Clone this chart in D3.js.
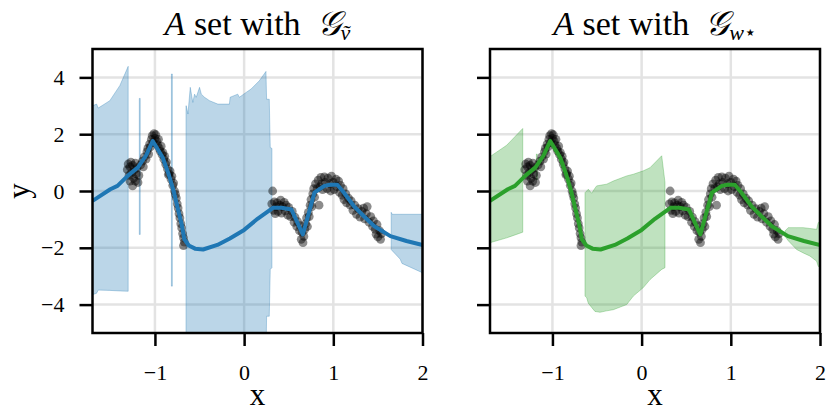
<!DOCTYPE html>
<html>
<head>
<meta charset="utf-8">
<script src="https://d3js.org/d3.v7.min.js"></script>
<style>
  body { margin: 0; background: #fff; }
  svg text { font-family: "Liberation Serif", "DejaVu Serif", serif; fill: #000; }
  .domain { display: none; }
</style>
</head>
<body>
<svg width="826" height="412"></svg>
<script>
// ticks
const xTicks = [-1, 0, 1, 2];
const yTicks = [-4, -2, 0, 2, 4];

// predictive mean (same in both panels)
const meanX = [-1.7, -1.5, -1.42, -1.3, -1.19, -1.1, -1.025, -0.913, -0.846, -0.79, -0.746, -0.70, -0.67, -0.62, -0.55, -0.46, -0.3, -0.16, 0, 0.15, 0.323, 0.42, 0.53, 0.658, 0.788, 0.9, 0.96, 1.045, 1.12, 1.23, 1.34, 1.46, 1.64, 1.82, 2.0];
const meanY = [-0.35, 0.06, 0.18, 0.55, 0.83, 1.25, 1.76, 1.18, 0.59, 0, -0.59, -1.18, -1.70, -1.92, -2.03, -2.06, -1.9, -1.67, -1.37, -0.98, -0.59, -0.59, -0.65, -1.53, -0.06, 0.18, 0.22, 0.22, -0.06, -0.53, -0.88, -1.24, -1.59, -1.76, -1.9];

// observations
const obsX = [-1.31, -1.30, -1.29, -1.28, -1.28, -1.27, -1.26, -1.25, -1.25, -1.24, -1.23, -1.22, -1.22, -1.21, -1.20, -1.19, -1.18,
  -1.16, -1.14, -1.13, -1.12, -1.10, -1.09, -1.08, -1.07, -1.06, -1.05, -1.04, -1.03, -1.02, -1.01, -1.00, -0.99, -0.98, -0.97, -0.96,
  -0.95, -0.94, -0.93, -0.92, -0.91, -0.90, -0.89, -0.88, -0.87, -0.86, -0.85, -0.84, -0.83, -0.82, -0.81, -0.80, -0.79, -0.78,
  -0.77, -0.76, -0.75, -0.74, -0.73, -0.72, -0.71, -0.70, -0.69, -0.68, -0.67, -0.68,
  0.32, 0.31, 0.33, 0.34, 0.35, 0.36, 0.37, 0.38, 0.40, 0.41, 0.42, 0.43, 0.45, 0.46, 0.47, 0.49, 0.50, 0.52, 0.54, 0.56, 0.57,
  0.59, 0.60, 0.62, 0.63, 0.64, 0.65, 0.66, 0.67, 0.68, 0.69, 0.70, 0.71, 0.72, 0.73, 0.74, 0.75, 0.76, 0.77, 0.78, 0.79, 0.80,
  0.82, 0.83, 0.84, 0.85, 0.86, 0.87, 0.88, 0.90, 0.91, 0.93, 0.94, 0.96, 0.97, 0.98, 1.00, 1.01, 1.03, 1.04, 1.06, 1.07, 1.08,
  1.10, 1.11, 1.12, 1.14, 1.15, 1.17, 1.19, 1.20, 1.22, 1.24, 1.26, 1.28, 1.30, 1.32, 1.34, 1.35, 1.37, 1.38, 1.40, 1.42, 1.44,
  1.45, 1.47, 1.48, 1.49, 1.50, 1.52, 1.53, 1.54];
const obsY = [0.75, 0.95, 0.55, 0.85, 0.35, 1.02, 0.65, 0.18, 0.9, 0.45, 0.75, 0.98, 0.35, 0.6, 0.82, 0.3, 0.55,
  0.92, 1.05, 0.85, 1.2, 1.12, 1.38, 1.5, 1.3, 1.65, 1.55, 1.82, 1.95, 1.7, 2.02, 1.85, 1.98, 1.75, 1.62, 1.82,
  1.5, 1.4, 1.58, 1.28, 1.35, 1.12, 1.22, 0.95, 1.02, 0.78, 0.58, 0.6, 0.7, 0.42, 0.52, 0.2, 0.28, 0.0,
  -0.12, -0.25, -0.45, -0.6, -0.8, -0.95, -1.15, -1.3, -1.5, -1.65, -1.8, -1.92,
  0.0, -0.45, -0.68, -0.38, -0.8, -0.55, -0.42, -0.72, -0.5, -0.32, -0.78, -0.55, -0.4, -0.7, -0.5, -0.85, -0.58, -0.9, -0.72, -1.1, -0.92,
  -1.25, -1.08, -1.4, -1.22, -1.7, -1.45, -1.82, -1.6, -1.35, -1.15, -0.95, -1.25, -0.75, -0.9, -0.5, -0.3, -0.55, -0.1, 0.08, -0.22, 0.25,
  0.1, 0.38, -0.5, 0.15, 0.48, 0.25, 0.05, 0.5, 0.3, 0.08, 0.45, 0.25, 0.0, 0.52, 0.3, 0.05, 0.42, 0.15, 0.35, -0.05, 0.2,
  -0.15, 0.08, -0.3, -0.1, -0.42, -0.25, -0.5, -0.35, -0.68, -0.5, -0.82, -0.62, -0.92, -0.72, -0.6, -0.98, -0.8, -0.55, -1.1, -0.9, -1.25,
  -1.05, -1.35, -1.52, -1.18, -1.62, -1.4, -1.7, -1.5];

// uncertainty band, left panel (null = no band)
const blueX  = [-1.7, -1.654, -1.636, -1.506, -1.394, -1.30, -1.29, -1.175, -1.165, -1.16, -0.815, -0.805, -0.80,
  -0.652, -0.649, -0.63, -0.604, -0.575, -0.556, -0.537, -0.50, -0.48, -0.444, -0.388, -0.295, -0.165, -0.157, -0.072, -0.053,
  0.022, 0.078, 0.17, 0.245, 0.252, 0.282, 0.293, 0.312, 0.32, 1.649, 1.66, 1.75, 1.77, 1.98, 2.0];
const blueHi = [3.0, 3.06, 2.92, 3.18, 3.71, 4.39, null, 3.26, 3.26, null, 4.12, 4.12, null,
  3.0, 3.0, 2.71, 3.65, 3.12, 3.41, 3.3, 3.65, 3.41, 3.3, 3.18, 3.06, 3.06, 3.3, 3.41, 3.3,
  3.47, 3.59, 3.88, 4.21, 3.23, 3.23, 1.53, 1.5, null, -0.75, -0.82, -0.82, -0.82, -0.82, -0.82];
const blueLo = [-3.65, -3.6, -3.49, -3.5, -3.52, -3.53, null, -1.53, -1.53, null, -3.35, -3.35, null,
  -6, -6, -6, -6, -6, -6, -6, -6, -6, -6, -6, -6, -6, -6, -6, -6,
  -6, -6, -6, -6, -4.41, -4.41, -2.76, -2.7, null, -2.06, -2.1, -2.4, -2.55, -2.85, -2.9];

// uncertainty band, right panel
const greenX  = [-1.7, -1.513, -1.333, -1.32, -1.18, -1.17, -1.16, -0.635, -0.616, -0.598, -0.56, -0.523, -0.504, -0.467,
  -0.392, -0.318, -0.168, -0.093, 0.019, 0.094, 0.225, 0.262, 0.27, 1.607, 1.644, 1.738, 1.812, 1.887, 1.962, 1.98, 2.0];
const greenHi = [1.21, 1.61, 2.2, null, 1.3, 1.3, null, -0.06, 0.0, 0.06, -0.08, 0.1, 0.18, 0.2,
  0.24, 0.35, 0.53, 0.59, 0.71, 0.82, 1.24, 0.3, null, -1.41, -1.29, -1.29, -1.29, -1.32, -1.35, -1.12, -1.05];
const greenLo = [-1.82, -1.65, -1.45, null, 0.4, 0.4, null, -3.7, -3.76, -3.95, -4.1, -4.24, -4.25, -4.27,
  -4.22, -4.18, -4.0, -3.7, -3.4, -3.12, -2.76, -2.7, null, -1.59, -1.75, -2.06, -2.18, -2.29, -2.47, -2.65, -2.7];

const svg = d3.select('svg');
const plotTop = 49, plotBottom = 333;

const panels = [
  { left: 92.5, right: 422.5, color: '#1f77b4', bx: blueX, hi: blueHi, lo: blueLo, sub: 'ṽ', star: false, ylabels: true },
  { left: 490, right: 820, color: '#2ca02c', bx: greenX, hi: greenHi, lo: greenLo, sub: 'w', star: true, ylabels: false }
];

panels.forEach((p, k) => {
  const x = d3.scaleLinear().domain([-1.7, 2]).range([p.left, p.right]);
  const y = d3.scaleLinear().domain([-5, 5]).range([plotBottom, plotTop]);

  svg.append('clipPath').attr('id', 'clip' + k)
    .append('rect')
      .attr('x', p.left).attr('y', plotTop)
      .attr('width', p.right - p.left).attr('height', plotBottom - plotTop);

  // grid
  const grid = svg.append('g').attr('stroke', '#e3e3e3').attr('stroke-width', 2.5);
  grid.selectAll('.gx').data(xTicks).join('line')
    .attr('x1', d => x(d)).attr('x2', d => x(d))
    .attr('y1', plotTop).attr('y2', plotBottom);
  grid.selectAll('.gy').data(yTicks).join('line')
    .attr('x1', p.left).attr('x2', p.right)
    .attr('y1', d => y(d)).attr('y2', d => y(d));

  const plot = svg.append('g').attr('clip-path', `url(#clip${k})`);

  // band
  const idx = d3.range(p.bx.length);
  const area = d3.area()
    .defined(i => p.hi[i] != null)
    .x(i => x(p.bx[i]))
    .y0(i => y(p.lo[i]))
    .y1(i => y(p.hi[i]));
  plot.append('path')
    .attr('d', area(idx))
    .attr('fill', p.color).attr('fill-opacity', 0.3)
    .attr('stroke', p.color).attr('stroke-opacity', 0.3).attr('stroke-width', 1);

  // observations
  plot.append('g').selectAll('circle').data(d3.range(obsX.length)).join('circle')
    .attr('cx', i => x(obsX[i]))
    .attr('cy', i => y(obsY[i]))
    .attr('r', 4.4)
    .attr('fill', '#000').attr('fill-opacity', 0.45);

  // mean
  const line = d3.line().x(i => x(meanX[i])).y(i => y(meanY[i]));
  plot.append('path')
    .attr('d', line(d3.range(meanX.length)))
    .attr('fill', 'none')
    .attr('stroke', p.color).attr('stroke-width', 4)
    .attr('stroke-linejoin', 'round');

  // axes
  const xAxis = d3.axisBottom(x).tickValues(xTicks).tickSize(13).tickPadding(18).tickFormat(d3.format('d'));
  const yAxis = d3.axisLeft(y).tickValues(yTicks).tickSize(13).tickPadding(15).tickFormat(d3.format('d'));
  if (!p.ylabels) yAxis.tickFormat('');
  const xg = svg.append('g').attr('transform', `translate(0,${plotBottom})`).call(xAxis);
  const yg = svg.append('g').attr('transform', `translate(${p.left},0)`).call(yAxis);
  [xg, yg].forEach(a => {
    a.selectAll('.tick line').attr('stroke', '#000').attr('stroke-width', 2.5);
    a.selectAll('.tick text').attr('font-size', 22).attr('font-family', '"Liberation Serif", serif');
  });

  // frame
  svg.append('rect')
    .attr('x', p.left).attr('y', plotTop)
    .attr('width', p.right - p.left).attr('height', plotBottom - plotTop)
    .attr('fill', 'none').attr('stroke', '#000').attr('stroke-width', 2.5);

  // x label
  svg.append('text')
    .attr('x', (p.left + p.right) / 2).attr('y', 405)
    .attr('text-anchor', 'middle').attr('font-size', 31)
    .text('x');

  // title
  const t = svg.append('text')
    .attr('x', (p.left + p.right) / 2).attr('y', 35)
    .attr('text-anchor', 'middle').attr('font-size', 34);
  t.append('tspan').attr('font-style', 'italic').text('A');
  t.append('tspan').text(' set with');
  t.append('tspan').attr('dx', 16).attr('font-style', 'italic').text('𝒢');
  t.append('tspan').attr('font-style', 'italic').attr('font-size', 22).attr('dy', 5).text(p.sub);
  if (p.star) t.append('tspan').attr('font-size', 20).attr('dy', -1).text('⋆');
});

// y label
svg.append('text')
  .attr('transform', 'translate(29,191) rotate(-90)')
  .attr('text-anchor', 'middle').attr('font-size', 31)
  .text('y');
</script>
</body>
</html>
